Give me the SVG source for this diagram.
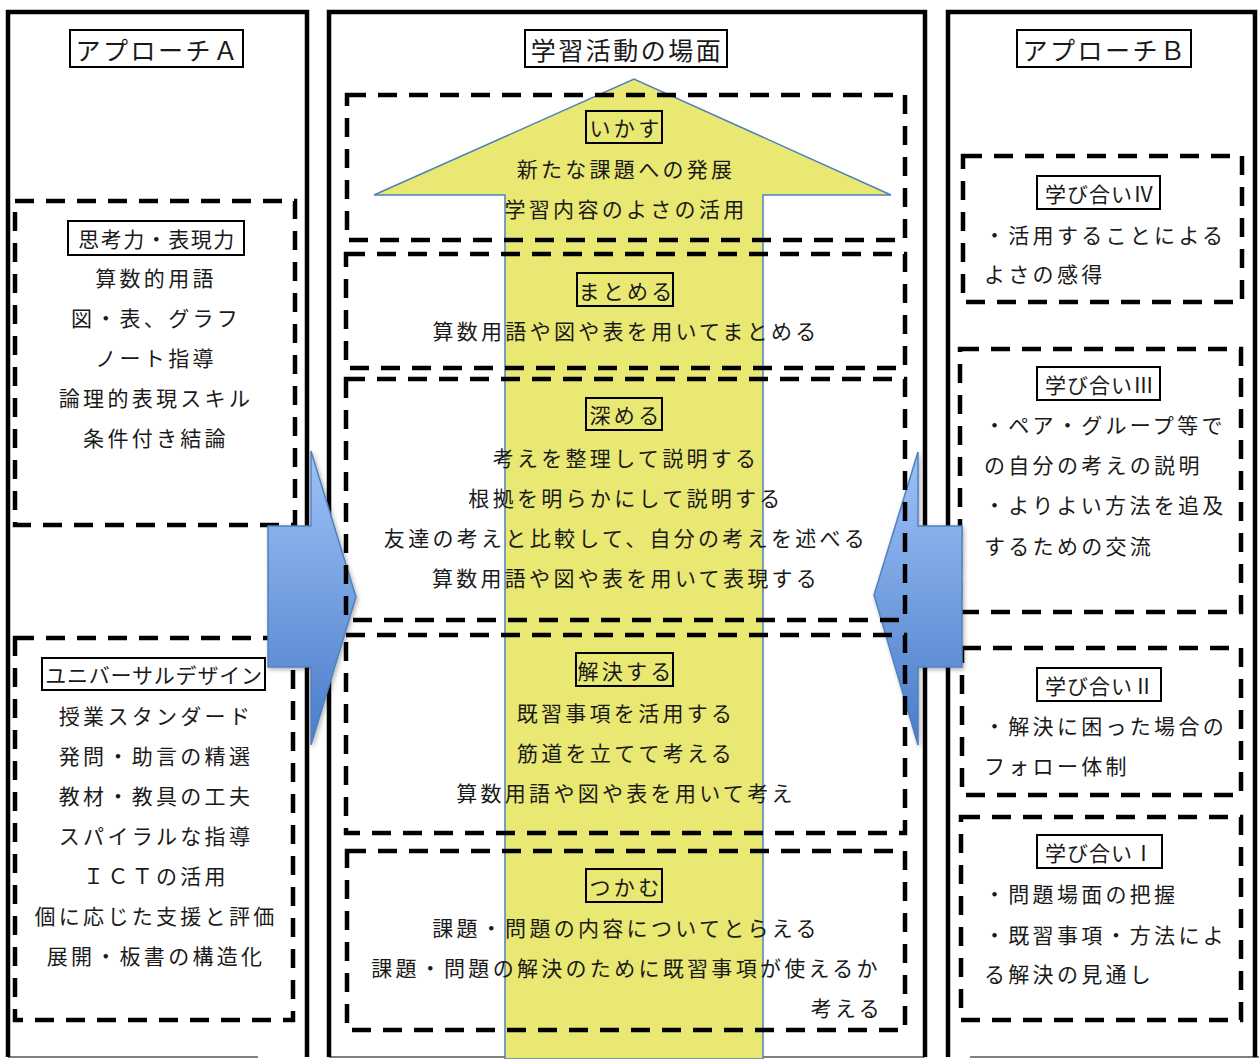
<svg xmlns="http://www.w3.org/2000/svg" width="1259" height="1059" viewBox="0 0 1259 1059">
<defs>
  <linearGradient id="blueGrad" x1="0" y1="0" x2="0" y2="1">
    <stop offset="0" stop-color="#9EC2F7"/>
    <stop offset="1" stop-color="#4A7CC9"/>
  </linearGradient>
  <filter id="shadow" x="-20%" y="-10%" width="140%" height="130%">
    <feDropShadow dx="1.5" dy="2" stdDeviation="2" flood-color="#000" flood-opacity="0.3"/>
  </filter>
</defs>
<style>
  .col { fill: none; stroke: #000; stroke-width: 4.5; }
  .colb { fill: none; stroke: #000; stroke-width: 1.2; }
  .dash { fill: none; stroke: #000; stroke-width: 4.5; stroke-dasharray: 19 12; }
  .tbox { fill: none; stroke: #000; stroke-width: 2; }
  .t { font-family: 'Noto Sans CJK JP', 'Noto Sans', sans-serif; font-size: 21px; letter-spacing: 3.3px; fill: #1a1a1a; dominant-baseline: central; }
  .c { text-anchor: middle; }
  .head { font-family: 'Noto Sans CJK JP', 'Noto Sans', sans-serif; font-size: 25px; letter-spacing: 2.5px; fill: #1a1a1a; dominant-baseline: central; text-anchor: middle; }
  .blue { fill: url(#blueGrad); stroke: #4F81BD; stroke-width: 1.5; filter: url(#shadow); }
  .yellow { fill: #E9E873; stroke: #4F81BD; stroke-width: 1.5; }
</style>

<!-- column frames -->
<g id="columns">
  <path class="col" d="M8,1057 L8,12 L307,12 L307,1057"/>
  <line class="colb" x1="8" y1="1057" x2="258" y2="1057"/>
  <path class="col" d="M329,1057 L329,12 L925,12 L925,1057"/>
  <line class="colb" x1="329" y1="1057" x2="925" y2="1057"/>
  <path class="col" d="M948,1057 L948,12 L1255,12 L1255,1057"/>
  <line class="colb" x1="970" y1="1057" x2="1259" y2="1057"/>
</g>

<!-- column titles -->
<g id="title-a">
  <rect class="tbox" x="70" y="30" width="173" height="37"/>
  <text class="head" x="158" y="48.5">アプローチＡ</text>
</g>
<g id="title-mid">
  <rect class="tbox" x="525" y="30" width="202" height="37"/>
  <text class="head" x="627" y="48.5">学習活動の場面</text>
</g>
<g id="title-b">
  <rect class="tbox" x="1017" y="30" width="174" height="37"/>
  <text class="head" x="1105" y="48.5">アプローチＢ</text>
</g>

<!-- left column nodes -->
<g id="node-shikoryoku">
  <rect class="dash" x="15" y="201" width="280" height="324"/>
  <rect class="tbox" x="68" y="221" width="176" height="34"/>
  <text class="t c" x="157" y="238" style="letter-spacing:1.5px">思考力・表現力</text>
  <text class="t c" x="156" y="277">算数的用語</text>
  <text class="t c" x="156" y="317">図・表、グラフ</text>
  <text class="t c" x="156" y="357">ノート指導</text>
  <text class="t c" x="156" y="397">論理的表現スキル</text>
  <text class="t c" x="156" y="437">条件付き結論</text>
</g>
<g id="node-ud">
  <rect class="dash" x="15" y="638" width="278" height="382"/>
  <rect class="tbox" x="42" y="658" width="223" height="32"/>
  <text class="t c" x="154" y="674" style="letter-spacing:0.8px">ユニバーサルデザイン</text>
  <text class="t c" x="156" y="715">授業スタンダード</text>
  <text class="t c" x="156" y="755">発問・助言の精選</text>
  <text class="t c" x="156" y="795">教材・教具の工夫</text>
  <text class="t c" x="156" y="835">スパイラルな指導</text>
  <text class="t c" x="156" y="875">ＩＣＴの活用</text>
  <text class="t c" x="156" y="915">個に応じた支援と評価</text>
  <text class="t c" x="156" y="955">展開・板書の構造化</text>
</g>

<!-- right column nodes -->
<g id="node-manabi4">
  <rect class="dash" x="963" y="156" width="279" height="146"/>
  <rect class="tbox" x="1037" y="176" width="123" height="33"/>
  <text class="t c" x="1100" y="192.5" style="letter-spacing:1px">学び合いⅣ</text>
  <text class="t" x="984" y="234">・活用することによる</text>
  <text class="t" x="984" y="273">よさの感得</text>
</g>
<g id="node-manabi3">
  <rect class="dash" x="960" y="349" width="281" height="263"/>
  <rect class="tbox" x="1037" y="367" width="123" height="33"/>
  <text class="t c" x="1100" y="383.5" style="letter-spacing:1px">学び合いⅢ</text>
  <text class="t" x="984" y="424">・ペア・グループ等で</text>
  <text class="t" x="984" y="464">の自分の考えの説明</text>
  <text class="t" x="984" y="504">・よりよい方法を追及</text>
  <text class="t" x="984" y="545">するための交流</text>
</g>
<g id="node-manabi2">
  <rect class="dash" x="962" y="648" width="279" height="147"/>
  <rect class="tbox" x="1037" y="668" width="124" height="33"/>
  <text class="t c" x="1100" y="684.5" style="letter-spacing:1px">学び合いⅡ</text>
  <text class="t" x="984" y="725">・解決に困った場合の</text>
  <text class="t" x="984" y="765">フォロー体制</text>
</g>
<g id="node-manabi1">
  <rect class="dash" x="961" y="817" width="280" height="203"/>
  <rect class="tbox" x="1037" y="835" width="125" height="33"/>
  <text class="t c" x="1100" y="851.5" style="letter-spacing:1px">学び合いⅠ</text>
  <text class="t" x="984" y="893">・問題場面の把握</text>
  <text class="t" x="984" y="934">・既習事項・方法によ</text>
  <text class="t" x="984" y="973">る解決の見通し</text>
</g>

<!-- connectors: block arrows -->
<g id="connectors">
  <path id="arrow-a" class="blue" d="M268,526 L311,526 L311,451 L356,597 L311,745 L311,667 L268,667 Z"/>
  <path id="arrow-b" class="blue" d="M962,526 L918,526 L918,452 L874,595 L918,745 L918,667 L962,667 Z"/>
  <path id="arrow-up" class="yellow" d="M505,1059 L505,195 L374,195 L634,79 L891,195 L763,195 L763,1059 Z"/>
</g>

<!-- middle column nodes -->
<g id="node-ikasu">
  <rect class="dash" x="347" y="95" width="558" height="145"/>
  <rect class="tbox" x="586" y="111" width="76" height="32"/>
  <text class="t c" x="626" y="127">いかす</text>
  <text class="t c" x="626" y="168">新たな課題への発展</text>
  <text class="t c" x="626" y="208">学習内容のよさの活用</text>
</g>
<g id="node-matomeru">
  <rect class="dash" x="346" y="254" width="559" height="114"/>
  <rect class="tbox" x="577" y="273" width="96" height="33"/>
  <text class="t c" x="627" y="289.5">まとめる</text>
  <text class="t c" x="626" y="330">算数用語や図や表を用いてまとめる</text>
</g>
<g id="node-fukameru">
  <rect class="dash" x="346" y="379" width="559" height="241"/>
  <rect class="tbox" x="586" y="398" width="76" height="32"/>
  <text class="t c" x="626" y="414">深める</text>
  <text class="t c" x="626" y="457">考えを整理して説明する</text>
  <text class="t c" x="626" y="497">根拠を明らかにして説明する</text>
  <text class="t c" x="626" y="537">友達の考えと比較して、自分の考えを述べる</text>
  <text class="t c" x="626" y="577">算数用語や図や表を用いて表現する</text>
</g>
<g id="node-kaiketsu">
  <rect class="dash" x="346" y="635" width="559" height="198"/>
  <rect class="tbox" x="576" y="653" width="97" height="33"/>
  <text class="t c" x="626" y="669.5">解決する</text>
  <text class="t c" x="626" y="712">既習事項を活用する</text>
  <text class="t c" x="626" y="752">筋道を立てて考える</text>
  <text class="t c" x="626" y="792">算数用語や図や表を用いて考え</text>
</g>
<g id="node-tsukamu">
  <rect class="dash" x="347" y="851" width="558" height="179"/>
  <rect class="tbox" x="586" y="869" width="76" height="33"/>
  <text class="t c" x="626" y="885.5">つかむ</text>
  <text class="t c" x="626" y="927">課題・問題の内容についてとらえる</text>
  <text class="t c" x="626" y="967">課題・問題の解決のために既習事項が使えるか</text>
  <text class="t" x="883" y="1007" style="text-anchor:end">考える</text>
</g>
</svg>
